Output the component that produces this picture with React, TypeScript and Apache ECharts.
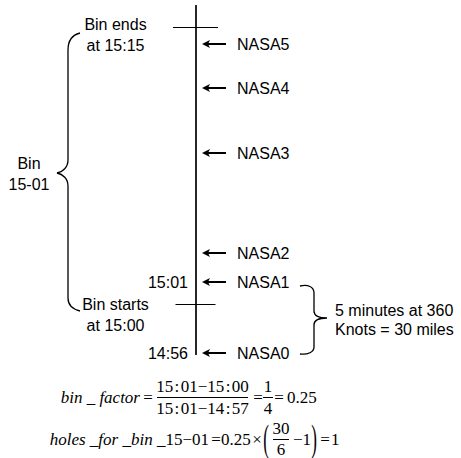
import React, { useEffect, useRef } from "react";
import * as echarts from "echarts";

// ---- data ----
const messages = ["NASA0", "NASA1", "NASA2", "NASA3", "NASA4", "NASA5"];
// position of each message along the timeline (top = 0)
const messagePos = [353, 282, 253, 153, 88, 44];
const timeLabels = ["14:56", "15:01"];
const timeLabelPos = [353, 282];
const binBoundLabels = ["Bin starts\nat 15:00", "Bin ends\nat 15:15"];
const binBoundPos = [304, 27];
const timelineExtent = [5, 355];
const binName = "Bin\n15-01";
const gapNote = "5 minutes at 360\nKnots = 30 miles";

const SANS = "'Liberation Sans', Arial, sans-serif";
const SERIF = "'Liberation Serif', 'Times New Roman', serif";

const braceL =
  "M80,33 C72,35 68,40 68,50 L68,160 C68,167 63,172 57,173 C63,174 68,179 68,186 L68,298 C68,305 72,309 80,311";
const braceR =
  "M300,286 C308,284 314,287 314,293 L314,311 C314,316 319,318 327,318 C319,318 314,320 314,325 L314,347 C314,352 308,355 300,354";
echarts.graphic.registerShape("braceL", echarts.graphic.extendPath(braceL, {}));
echarts.graphic.registerShape("braceR", echarts.graphic.extendPath(braceR, {}));

const arrowPath = "path://M0,4 L8,0 L6.5,2.9 L24,2.9 L24,5.1 L6.5,5.1 L8,8 Z";

function txt(x: number, y: number, text: string, o: any = {}) {
  return {
    type: "text",
    x,
    y,
    scaleX: o.scaleX ?? 1,
    scaleY: o.scaleY ?? 1,
    style: {
      text,
      fill: "#000",
      fontSize: o.fontSize ?? 17,
      fontFamily: o.fontFamily ?? SERIF,
      fontStyle: o.fontStyle ?? "normal",
      align: o.align ?? "left",
      verticalAlign: "middle",
      lineHeight: o.lineHeight,
      rich: o.rich,
    },
  };
}
function hline(x1: number, x2: number, y: number, w = 1) {
  return {
    type: "line",
    shape: { x1, y1: y, x2, y2: y },
    style: { stroke: "#000", lineWidth: w },
  };
}

export default function App() {
  const ref = useRef<HTMLDivElement>(null);
  useEffect(() => {
    if (!ref.current) return;
    const chart = echarts.init(ref.current, null, { renderer: "svg" });
    const lineX = 196;
    const labelBase = { color: "#000", fontSize: 16, fontFamily: SANS, opacity: 1 };
    const option: any = {
      animation: false,
      grid: { left: 0, right: 0, top: 0, bottom: 0 },
      xAxis: { type: "value", min: 0, max: 461, show: false },
      yAxis: { type: "value", min: 0, max: 458, inverse: true, show: false },
      series: [
        {
          type: "line",
          data: timelineExtent.map((v) => [lineX, v]),
          symbol: "none",
          lineStyle: { color: "#000", width: 1.7 },
          silent: true,
        },
        {
          type: "scatter",
          symbol: "rect",
          data: binBoundPos.map((v, i) => ({
            value: [lineX - 0.5, v + 0.5],
            symbolSize: i === 0 ? [40, 1] : [45, 1],
            label: { offset: i === 0 ? [-80, 10] : [-80, 7] },
          })),
          itemStyle: { color: "#000", opacity: 1 },
          label: {
            ...labelBase,
            show: true,
            position: "inside",
            formatter: (p: any) => binBoundLabels[p.dataIndex],
            lineHeight: 21,
            align: "center",
          },
        },
        {
          type: "scatter",
          symbol: arrowPath,
          symbolSize: [24, 8],
          data: messagePos.map((v) => [214, v]),
          itemStyle: { color: "#000", opacity: 1 },
          label: {
            ...labelBase,
            show: true,
            position: "right",
            distance: 11,
            formatter: (p: any) => messages[p.dataIndex],
          },
        },
        {
          type: "scatter",
          symbolSize: 0,
          data: timeLabelPos.map((v) => [lineX, v]),
          itemStyle: { opacity: 1 },
          label: {
            ...labelBase,
            show: true,
            position: "left",
            distance: 8,
            formatter: (p: any) => timeLabels[p.dataIndex],
          },
        },
      ],
      graphic: [
        { type: "braceL", x: 0, y: 0, style: { fill: "none", stroke: "#000", lineWidth: 1.3 } },
        { type: "braceR", x: 0, y: 0, style: { fill: "none", stroke: "#000", lineWidth: 1.3 } },
        txt(29, 173.5, binName, { fontFamily: SANS, fontSize: 16, align: "center", lineHeight: 21 }),
        txt(335, 319.5, gapNote, { fontFamily: SANS, fontSize: 16, lineHeight: 19 }),
        // equation 1
        txt(140, 397, "bin _ factor", { fontStyle: "italic", align: "right" }),
        txt(148, 397, "=", { align: "center" }),
        txt(202.5, 386, "15\u200a:\u200a01\u221215\u200a:\u200a00", { align: "center" }),
        hline(157, 248, 397.5),
        txt(202.5, 408, "15\u200a:\u200a01\u221214\u200a:\u200a57", { align: "center" }),
        txt(258, 397, "=", { align: "center" }),
        txt(268, 386, "1", { align: "center" }),
        hline(263, 273, 397.5),
        txt(268, 408, "4", { align: "center" }),
        txt(279, 397, "=", { align: "center" }),
        txt(287, 397, "0.25", {}),
        // equation 2
        txt(209, 439, "{i|holes _for _bin _}{r|15\u221201}", {
          align: "right",
          rich: {
            i: { fontStyle: "italic", fontSize: 17, fontFamily: SERIF, fill: "#000" },
            r: { fontSize: 17, fontFamily: SERIF, fill: "#000" },
          },
        }),
        txt(216, 439, "=", { align: "center" }),
        txt(221, 439, "0.25", {}),
        txt(257, 439, "\u00d7", { align: "center" }),
        txt(266, 438, "(", { align: "center", scaleY: 2.2 }),
        txt(281, 428, "30", { align: "center" }),
        hline(273, 289, 439.5),
        txt(281, 449, "6", { align: "center" }),
        txt(293, 439, "\u22121", {}),
        txt(314, 438, ")", { align: "center", scaleY: 2.2 }),
        txt(325, 439, "=", { align: "center" }),
        txt(331, 439, "1", {}),
      ],
    };
    chart.setOption(option);
    return () => chart.dispose();
  }, []);
  return (
    <div
      ref={ref}
      style={{ position: "fixed", left: 0, top: 0, width: 461, height: 458, background: "#fff" }}
    />
  );
}
